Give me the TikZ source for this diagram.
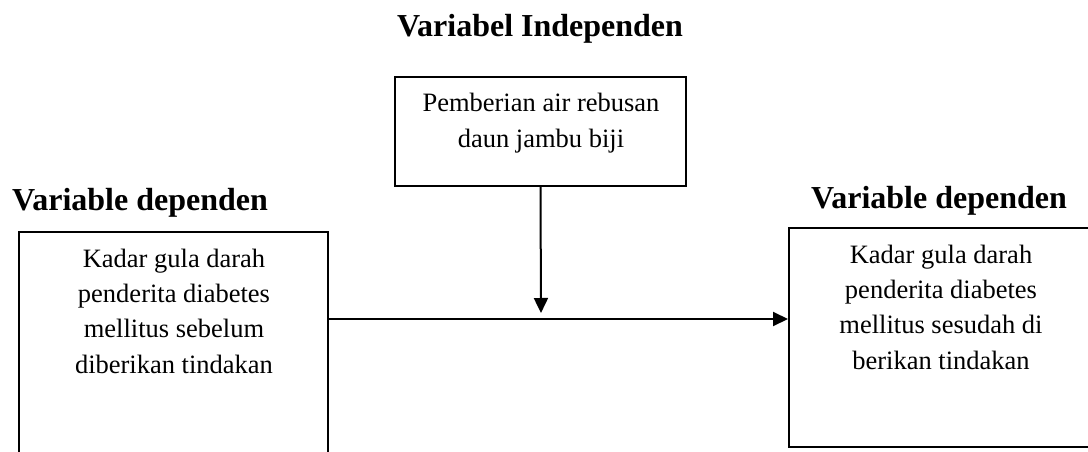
\documentclass[tikz,border=0pt]{standalone}
\usepackage{fontspec}
\setmainfont{Liberation Serif}
\usetikzlibrary{arrows.meta}
\begin{document}
\begin{tikzpicture}[x=1pt,y=-1pt,
  box/.style={draw,line width=2pt,rectangle,inner sep=0pt},
  boxtext/.style={align=center,font=\fontsize{26.5}{35.3}\selectfont,inner sep=0pt,anchor=base},
  heading/.style={font=\fontsize{32}{34}\selectfont\bfseries,inner sep=0pt,anchor=base},
  link/.style={line width=2pt,-{Triangle[length=15pt,width=14pt]}}]
\useasboundingbox (0,0) rectangle (1088,452);
\clip (0,0) rectangle (1088,452);
\fill[white] (0,0) rectangle (1088,452);

% headings
\node[heading] (hIndep) at (540,37) {Variabel Independen};
\node[heading] (hLeft)  at (140,210) {Variable dependen};
\node[heading] (hRight) at (939,208) {Variable dependen};

% independent variable box
\node[box,minimum width=291pt,minimum height=109pt] (indep) at (540.5,131.5) {};
\node[boxtext] (tIndep) at (541,147) {Pemberian air rebusan\\daun jambu biji};

% dependent variable, before treatment (runs past the lower edge)
\node[box,minimum width=309pt,minimum height=240pt] (before) at (173.5,352) {};
\node[boxtext] (tBefore) at (174,373) {Kadar gula darah\\penderita diabetes\\mellitus sebelum\\diberikan tindakan};

% dependent variable, after treatment (runs past the right edge)
\node[box,minimum width=306pt,minimum height=219pt] (after) at (942,337.5) {};
\node[boxtext] (tAfter) at (941,369) {Kadar gula darah\\penderita diabetes\\mellitus sesudah di\\berikan tindakan};

% connectors
\coordinate (join) at (541,313);
\coordinate (axis) at (541,319);
\draw[link] (indep.south) -- (join);
\draw[link] (before.east |- axis) -- (after.west |- axis);
\end{tikzpicture}
\end{document}
